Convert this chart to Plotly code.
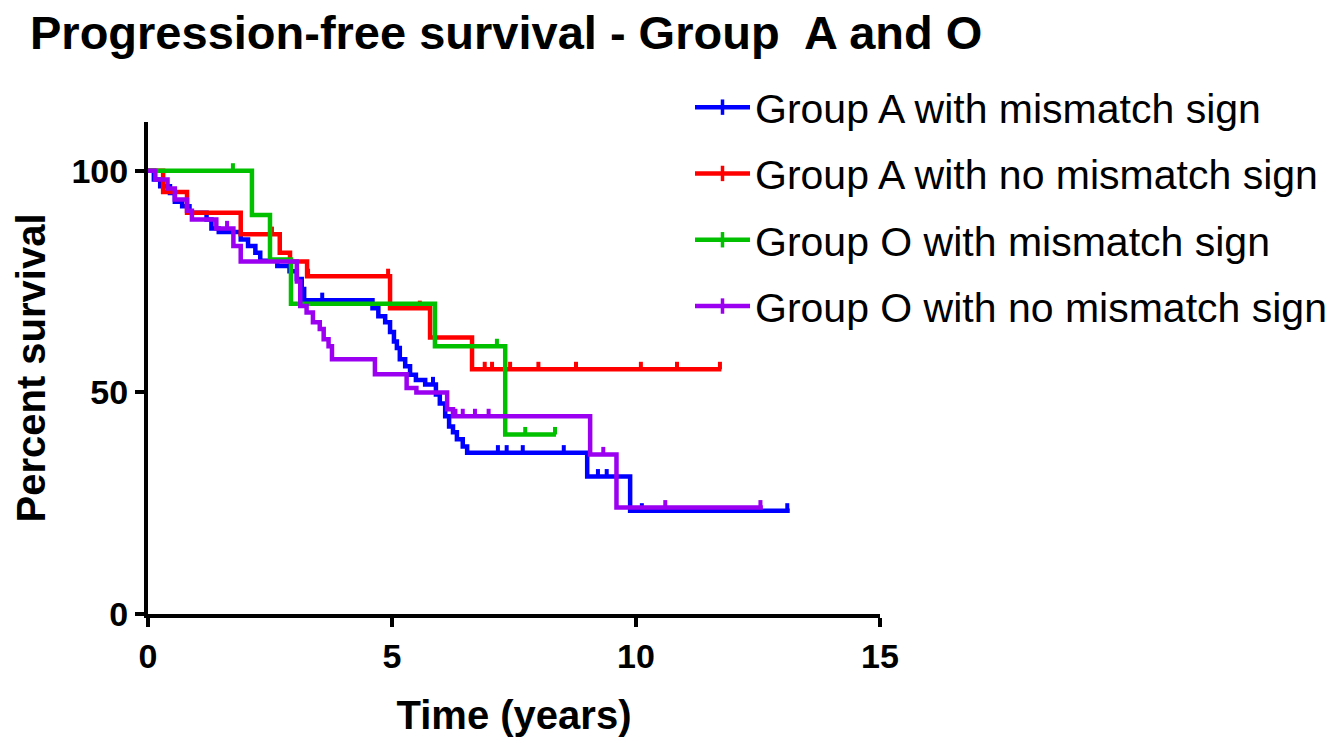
import numpy as np
import plotly.graph_objects as go

# ---- data ----
series_names = ["Group A with mismatch sign", "Group A with no mismatch sign",
                "Group O with mismatch sign", "Group O with no mismatch sign"]
series_colors = ["#0000FF", "#FF0000", "#00C000", "#9B00F0"]

blue_t = [0.12, 0.25, 0.45, 0.55, 0.7, 0.85, 1.2, 1.3, 1.45, 1.9, 2.05, 2.2, 2.3, 2.65, 2.9, 3.05,
          3.15, 3.2, 4.6, 4.72, 4.86, 4.96, 5.04, 5.1, 5.16, 5.27, 5.37, 5.49, 5.68, 5.9, 5.98,
          6.09, 6.17, 6.25, 6.33, 6.45, 6.54, 9.0, 9.88]
blue_s = [98, 96.5, 95, 93, 92, 90.5, 89, 87, 86.2, 84.5, 83, 81.5, 79.7, 78.5, 77.3, 75.6,
          73.3, 70.8, 69, 67.2, 65.8, 63.6, 61.5, 60, 57.5, 55.9, 54, 52.8, 51.8, 49.5, 47.5,
          44.6, 42.3, 41, 39.4, 37.8, 36.4, 31, 23.3]
blue_end = 13.15
blue_cens = [3.57, 5.84, 7.17, 7.35, 7.68, 8.52, 9.22, 9.4, 10.12, 13.1]

red_t = [0.31, 0.8, 1.9, 2.7, 2.91, 3.26, 4.96, 5.78, 6.64]
red_s = [95.2, 90.5, 85.7, 81.5, 79.5, 76.2, 69, 62.4, 55.2]
red_end = 11.75
red_cens = [2.54, 3.28, 4.92, 5.57, 6.9, 7.05, 7.42, 8.0, 8.77, 10.1, 10.84, 11.72]

green_t = [2.13, 2.5, 2.93, 5.88, 7.32]
green_s = [90, 80, 70, 60.4, 40.5]
green_end = 8.36
green_cens = [1.74, 7.15, 7.73, 8.34]

purple_t = [0.15, 0.4, 0.55, 0.8, 0.9, 1.4, 1.75, 1.9, 3.05, 3.12, 3.25, 3.38, 3.52, 3.6, 3.7,
            3.77, 4.65, 5.3, 5.5, 6.13, 6.25, 9.06, 9.6]
purple_s = [98, 96, 93.5, 91, 89, 87, 83, 79.5, 75, 69.5, 68, 65.8, 64.3, 62, 60.4,
            57.5, 54.1, 51, 50, 46.2, 44.6, 36, 24]
purple_end = 12.6
purple_cens = [1.62, 6.3, 6.45, 6.7, 6.98, 9.33, 10.6, 12.55]

x_ticks = [0, 5, 10, 15]
y_ticks = [0, 50, 100]

series = [
    (blue_t, blue_s, blue_end, blue_cens),
    (red_t, red_s, red_end, red_cens),
    (green_t, green_s, green_end, green_cens),
    (purple_t, purple_s, purple_end, purple_cens),
]

FONT = "Liberation Sans, Arial, sans-serif"
fig = go.Figure()

TICK_H = 1.7  # censor tick height in percent units

for i, (ts, ss, end, cens) in enumerate(series):
    name = series_names[i]
    col = series_colors[i]
    xs = [0.0] + list(ts) + [end]
    ys = [100.0] + list(ss) + [ss[-1]]
    fig.add_trace(go.Scatter(x=xs, y=ys, mode="lines", line=dict(color=col, width=4.5, shape="hv"),
                             name=name, legendgroup=name, showlegend=False))
    # censor ticks
    tarr = np.array([0.0] + list(ts))
    sarr = np.array([100.0] + list(ss))
    cx, cy = [], []
    for c in cens:
        idx = np.searchsorted(tarr, c, side="right") - 1
        sv = float(sarr[idx])
        cx += [c, c, None]
        cy += [sv, sv + TICK_H, None]
    fig.add_trace(go.Scatter(x=cx, y=cy, mode="lines", line=dict(color=col, width=4),
                             legendgroup=name, showlegend=False, hoverinfo="skip"))
    # legend entry (line with a censor tick)
    fig.add_trace(go.Scatter(x=[None], y=[None], mode="lines+markers", name=name, legendgroup=name,
                             line=dict(color=col, width=4.5),
                             marker=dict(symbol="line-ns-open", size=11, color=col,
                                         line=dict(color=col, width=3.5)),
                             showlegend=True))

fig.update_layout(
    width=1340, height=743,
    paper_bgcolor="white", plot_bgcolor="white",
    margin=dict(l=148, r=460, t=122, b=129, autoexpand=False),
    title=dict(text="<b>Progression-free survival - Group  A and O</b>",
               x=30 / 1340, xanchor="left", y=1 - 33 / 743, yanchor="middle",
               font=dict(family=FONT, size=47, color="black")),
    legend=dict(x=(690 - 148) / 732, xanchor="left", y=(614 - 74) / 492, yanchor="top",
                font=dict(family=FONT, size=41, color="black"),
                bgcolor="rgba(0,0,0,0)", tracegroupgap=10, itemwidth=55,
                traceorder="grouped"),
    showlegend=True,
)

fig.update_xaxes(range=[0, 15], tickvals=x_ticks, ticktext=[str(v) for v in x_ticks],
                 showgrid=False, zeroline=False, showline=True, linecolor="black", linewidth=4,
                 ticks="outside", ticklen=9, tickwidth=4, tickcolor="black",
                 tickfont=dict(family=FONT, size=34, color="black", weight="bold"),
                 title=dict(text="<b>Time (years)</b>", font=dict(family=FONT, size=40, color="black"),
                            standoff=28),
                 automargin=False)
fig.update_yaxes(range=[0, 111], tickvals=y_ticks, ticktext=[str(v) for v in y_ticks],
                 showgrid=False, zeroline=False, showline=True, linecolor="black", linewidth=4,
                 ticks="outside", ticklen=9, tickwidth=4, tickcolor="black",
                 tickfont=dict(family=FONT, size=34, color="black", weight="bold"),
                 title=dict(text="<b>Percent survival</b>", font=dict(family=FONT, size=40, color="black"),
                            standoff=14),
                 automargin=False)

fig.write_html("out.html", config={"displayModeBar": False},
               post_script="document.body.style.margin='0px';")
